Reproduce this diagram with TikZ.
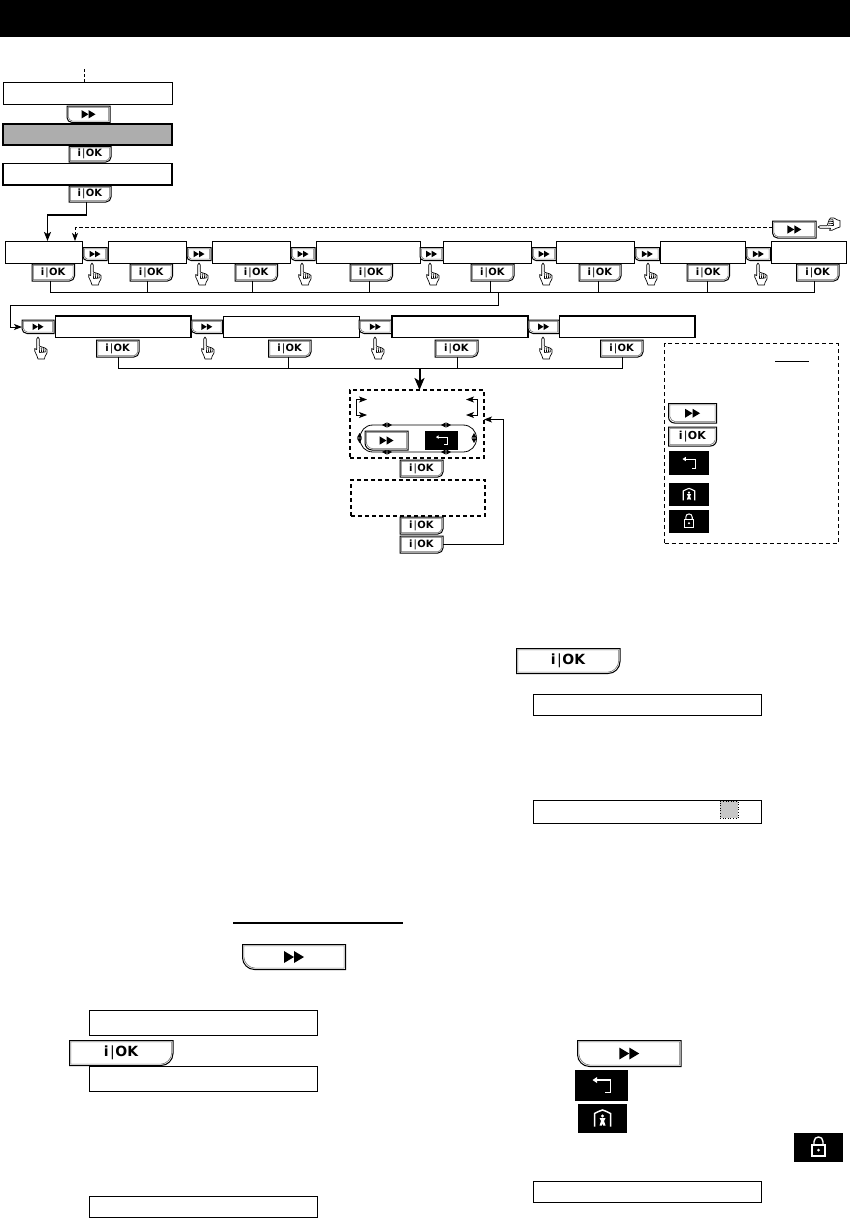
\documentclass[tikz,border=0pt]{standalone}
\usepackage{fontspec}
\setmainfont{DejaVu Sans}
\usetikzlibrary{arrows.meta}
\tikzset{
  dbase/.style={rectangle,inner sep=0pt,outer sep=0pt},
  dispbox/.style={dbase,draw=black,line width=1pt,fill=white},
  thickbox/.style={dbase,draw=black,line width=1.5pt,fill=white},
  greybox/.style={dbase,draw=black,line width=1.5pt,fill=barfill},
  darkicon/.style={dbase,fill=black},
  dashbox/.style={dbase,draw=black,line width=1.3pt,dash pattern=on 4pt off 3pt},
  thinbox/.style={dbase,draw=black,line width=.7pt,dash pattern=on 4pt off 3pt},
  link/.style={draw=black,line width=.8pt},
  linkarrow/.style={link,-{Stealth[length=8pt,width=6pt,inset=2pt]}},
  btnouter/.style={draw=black,line width=1pt,fill=white},
  btninner/.style={draw=black!55,line width=.6pt},
  whiteglyph/.style={draw=white,line width=1.3pt,line cap=butt},
  handline/.style={draw=black,line width=.65pt,fill=white,line join=round},
}
\definecolor{barfill}{HTML}{ADADAD}
\definecolor{squarefill}{HTML}{C8C8C8}
% generic box: style, name, x1,y1,x2,y2
\newcommand\dispnode[6]{%
  \pgfmathsetmacro\cxx{(#3+#5)/2}\pgfmathsetmacro\cyy{(#4+#6)/2}%
  \pgfmathsetmacro\ww{#5-#3}\pgfmathsetmacro\hh{#6-#4}%
  \node[#1,minimum width=\ww pt,minimum height=\hh pt] (#2) at (\cxx,\cyy) {};}
% next button: name, x1,y1,x2,y2, arrow width, corner radius
\newcommand\nxbtn[7]{%
  \pgfmathsetmacro\cxx{(#2+#4)/2}\pgfmathsetmacro\cyy{(#3+#5)/2}%
  \pgfmathsetmacro\ww{#4-#2}\pgfmathsetmacro\hh{#5-#3}%
  \pgfmathsetmacro\rx{#2+#7}\pgfmathsetmacro\ry{#5-#7}%
  \pgfmathsetmacro\cax{#2+.45*#7}\pgfmathsetmacro\cay{#5-.45*#7}%
  \draw[btnouter] (#2,#3) -- (#4,#3) -- (#4,#5) -- (\rx,#5) .. controls (\cax,#5) and (#2,\cay) .. (#2,\ry) -- cycle;
  \pgfmathsetmacro\ix{#2+1.4}\pgfmathsetmacro\iy{#3+1.4}\pgfmathsetmacro\jx{#4-1.4}\pgfmathsetmacro\jy{#5-1.4}%
  \pgfmathsetmacro\irx{\rx+.5}\pgfmathsetmacro\iry{\ry-.5}%
  \draw[btninner] (\ix,\iy) -- (\jx,\iy) -- (\jx,\jy) -- (\irx,\jy) .. controls (\cax+1.4,\jy) and (\ix,\cay-1.4) .. (\ix,\iry) -- cycle;
  \node[dbase,minimum width=\ww pt,minimum height=\hh pt] (#1) at (\cxx,\cyy) {};
  \begin{scope}[shift={(\cxx,\cyy)}]
    \fill[black] (-#6/2,-.3*#6) -- (0,0) -- (-#6/2,.3*#6) -- cycle;
    \fill[black] (0,-.3*#6) -- (#6/2,0) -- (0,.3*#6) -- cycle;
  \end{scope}}
% ok button: name, x1,y1,x2,y2, font size, corner radius
\newcommand\okbtn[7]{%
  \pgfmathsetmacro\cxx{(#2+#4)/2}\pgfmathsetmacro\cyy{(#3+#5)/2}%
  \pgfmathsetmacro\ww{#4-#2}\pgfmathsetmacro\hh{#5-#3}%
  \pgfmathsetmacro\rx{#4-#7}\pgfmathsetmacro\ry{#5-#7}%
  \pgfmathsetmacro\cax{#4-.45*#7}\pgfmathsetmacro\cay{#5-.45*#7}%
  \draw[btnouter] (#2,#3) -- (#4,#3) -- (#4,\ry) .. controls (#4,\cay) and (\cax,#5) .. (\rx,#5) -- (#2,#5) -- cycle;
  \pgfmathsetmacro\ix{#2+1.4}\pgfmathsetmacro\iy{#3+1.4}\pgfmathsetmacro\jx{#4-1.4}\pgfmathsetmacro\jy{#5-1.4}%
  \draw[btninner] (\ix,\iy) -- (\jx,\iy) -- (\jx,\ry) .. controls (\jx,\cay-1.4) and (\cax-1.4,\jy) .. (\rx,\jy) -- (\ix,\jy) -- cycle;
  \node[dbase,minimum width=\ww pt,minimum height=\hh pt,
        font=\fontsize{#6}{#6}\selectfont] (#1) at (\cxx,\cyy) {\textbf{i}\kern.1em{|}\kern.04em\textbf{OK}};}
% hand: x,y of fingertip, rotation, name
\newcommand\handico[4]{%
  \coordinate (#4) at (#1,#2);
  \begin{scope}[shift={(#1,#2)},rotate=#3]
    \draw[handline] (-1.3,2) .. controls (-1.3,-.6) and (1.3,-.6) .. (1.3,2) -- (1.3,9) -- (4,10) -- (7,11) -- (9,12.5) -- (9,16) -- (7,19.5) -- (6.5,22) -- (0,22) -- (-1,19) -- (-3.3,14) -- (-3.3,11.5) -- (-1.3,12.5) -- cycle;
    \draw[handline,fill=none] (1.3,10) -- (1.5,15.5) (3.2,10.5) -- (3.6,15.5) (5.2,11) -- (5.6,15.5) (7,11.5) -- (7.3,15) (1.5,15.5) -- (7.3,15);
  \end{scope}}
% black icons: name, x1,y1,x2,y2, scale
\newcommand\backico[6]{%
  \dispnode{darkicon}{#1}{#2}{#3}{#4}{#5}%
  \begin{scope}[shift={(#1.center)},scale=#6]
    \draw[whiteglyph,line width=#6*1.4pt] (-6,-5.5) -- (9,-5.5) -- (9,7) -- (3.5,7);
    \fill[white] (-9,-5.5) -- (-4.5,-8.5) -- (-4.5,-2.5) -- cycle;
  \end{scope}}
\newcommand\homeico[6]{%
  \dispnode{darkicon}{#1}{#2}{#3}{#4}{#5}%
  \begin{scope}[shift={(#1.center)},scale=#6]
    \draw[whiteglyph,line width=#6*1.5pt] (-8,8) -- (-8,-5) -- (-4,-7) -- (0,-8.5) -- (4,-7) -- (8,-5) -- (8,8);
    \fill[white] (0,-2.5) circle (1.7);
    \fill[white] (-3,-.5) -- (3,-.5) -- (1.5,2.5) -- (3,7) -- (.7,7) -- (0,5) -- (-.7,7) -- (-3,7) -- (-1.5,2.5) -- cycle;
  \end{scope}}
\newcommand\lockico[6]{%
  \dispnode{darkicon}{#1}{#2}{#3}{#4}{#5}%
  \begin{scope}[shift={(#1.center)},scale=#6]
    \draw[whiteglyph,line width=#6*1.4pt] (-6.5,-2.5) rectangle (6.5,8.5);
    \draw[whiteglyph,line width=#6*1.4pt] (-4.5,-2.5) -- (-4.5,-6) .. controls (-4.5,-12) and (4.5,-12) .. (4.5,-6) -- (4.5,-2.5);
    \fill[white] (0,2.5) circle (1.5);
  \end{scope}}
% small double arrow: x,y, rotation
\newcommand\dblarr[3]{%
  \begin{scope}[shift={(#1,#2)},rotate=#3]
    \fill[black] (-.3,-2.6) -- (-.3,2.6) -- (-5,0) -- cycle;
    \fill[black] (.3,-2.6) -- (.3,2.6) -- (5,0) -- cycle;
  \end{scope}}
\begin{document}
\begin{tikzpicture}[x=1pt,y=-1pt]
\useasboundingbox (0,0) rectangle (850,1218);
\dispnode{dbase,fill=black}{topbar}{0}{0}{850}{37}

% top stack
\dispnode{dispbox}{s1}{3}{82.5}{172}{104}
\nxbtn{sn1}{67}{106}{110}{122.5}{14}{5}
\dispnode{greybox}{s2}{3}{124}{172}{145}
\okbtn{so1}{69}{146.5}{111}{162}{10}{5}
\dispnode{thickbox}{s3}{3}{163.5}{172}{185}
\okbtn{so2}{69}{186}{111}{202}{10}{5}
\coordinate (tick) at (84.5,69);
\draw[link,dash pattern=on 3pt off 2pt] (tick) -- (s1.north -| tick);

% row 1 boxes
\dispnode{dispbox}{a1}{5}{241}{82}{263}
\dispnode{dispbox}{a2}{108.5}{241}{186.5}{263}
\dispnode{dispbox}{a3}{212.5}{241}{290.5}{263}
\dispnode{dispbox}{a4}{316}{241}{420}{263}
\dispnode{dispbox}{a5}{443.5}{241}{531.5}{263}
\dispnode{dispbox}{a6}{556.5}{241}{634.5}{263}
\dispnode{dispbox}{a7}{660}{241}{745.5}{263}
\dispnode{dispbox}{a8}{771.5}{241}{846}{263}
% row 1 next buttons
\nxbtn{an1}{83}{247.5}{107}{260.5}{11}{4}
\nxbtn{an2}{187}{247.5}{211}{260.5}{11}{4}
\nxbtn{an3}{291}{247.5}{315}{260.5}{11}{4}
\nxbtn{an4}{420}{247.5}{443}{260.5}{11}{4}
\nxbtn{an5}{532}{247.5}{556}{260.5}{11}{4}
\nxbtn{an6}{635}{247.5}{659.5}{260.5}{11}{4}
\nxbtn{an7}{746}{247.5}{770.5}{260.5}{11}{4}
% row 1 ok buttons
\okbtn{ao1}{32}{264}{74.5}{281}{10}{5}
\okbtn{ao2}{130}{264}{172.5}{281}{10}{5}
\okbtn{ao3}{235}{264}{277.5}{281}{10}{5}
\okbtn{ao4}{350}{264}{392.5}{281}{10}{5}
\okbtn{ao5}{471}{264}{514}{281}{10}{5}
\okbtn{ao6}{579}{264}{621}{281}{10}{5}
\okbtn{ao7}{687}{264}{729.5}{281}{10}{5}
\okbtn{ao8}{796.5}{264}{839}{281}{10}{5}
% hands row 1
\handico{92}{263}{0}{h1}
\handico{199}{263}{0}{h2}
\handico{302}{263}{0}{h3}
\handico{430}{263}{0}{h4}
\handico{543}{263}{0}{h5}
\handico{648}{263}{0}{h6}
\handico{758}{263}{0}{h7}

% repeat button + dashed return
\nxbtn{bign}{772.5}{221}{816}{238}{14}{5}
\handico{818}{227}{90}{h8}

% row 1 connectors
\coordinate (r1) at (50.5,292);
\coordinate (r2) at (147.5,292);
\coordinate (r3) at (252.5,292);
\coordinate (r4) at (369.5,292);
\coordinate (r5) at (490.5,292);
\coordinate (r6) at (598,292);
\coordinate (r7) at (707,292);
\coordinate (r8) at (814,292);
\coordinate (rj) at (498.5,292);
\coordinate (rk) at (498.5,305.5);
\coordinate (rl) at (10.5,305.5);
\coordinate (rm) at (10.5,327);
\draw[link] (ao1.south -| r1) -- (r1) -- (r8) -- (ao8.south -| r8);
\draw[link] (ao2.south -| r2) -- (r2);
\draw[link] (ao3.south -| r3) -- (r3);
\draw[link] (ao4.south -| r4) -- (r4);
\draw[link] (ao5.south -| r5) -- (r5);
\draw[link] (ao6.south -| r6) -- (r6);
\draw[link] (ao7.south -| r7) -- (r7);

% entry connectors
\coordinate (ea) at (86.5,215);
\coordinate (eb) at (47.5,215);
\draw[link,line width=1.3pt,-{Stealth[length=9pt,width=7pt,inset=2pt]}] (so2.south -| ea) -- (ea) -- (eb) -- (a1.north -| eb);
\coordinate (dc) at (75,227.5);
\draw[link,dash pattern=on 3.5pt off 2.5pt,-{Stealth[length=8pt,width=6pt,inset=2pt]}] (bign.west |- dc) -- (dc) -- (a1.north -| dc);

% row 2
\nxbtn{bn1}{22}{320}{54}{333.5}{11}{5}
\dispnode{thickbox}{b1}{55.5}{316}{191}{337.5}
\nxbtn{bn2}{191}{320}{222.5}{333.5}{11}{5}
\dispnode{dispbox}{b2}{223.5}{316}{359}{337.5}
\nxbtn{bn3}{359}{320}{391.5}{333.5}{11}{5}
\dispnode{thickbox}{b3}{392}{316}{528}{337.5}
\nxbtn{bn4}{528}{320}{559}{333.5}{11}{5}
\dispnode{thickbox}{b4}{559.5}{316}{695}{337.5}
\draw[linkarrow] (r5 -| rj) -- (rk) -- (rl) -- (rm) -- (bn1.west |- rm);
\okbtn{bo1}{96.5}{340}{139}{357}{10}{5}
\okbtn{bo2}{268.5}{340}{311}{357}{10}{5}
\okbtn{bo3}{435}{340}{478}{357}{10}{5}
\okbtn{bo4}{600.5}{340}{643}{357}{10}{5}
\handico{38}{337}{0}{h9}
\handico{205}{337}{0}{h10}
\handico{375}{337}{0}{h11}
\handico{543}{337}{0}{h12}
\coordinate (q1) at (118.5,368);
\coordinate (q2) at (288,368);
\coordinate (q3) at (457,368);
\coordinate (q4) at (622,368);
\coordinate (qa) at (419.5,368);
\draw[link] (bo1.south -| q1) -- (q1) -- (q4) -- (bo4.south -| q4);
\draw[link] (bo2.south -| q2) -- (q2);
\draw[link] (bo3.south -| q3) -- (q3);

% centre dashed panels
\dispnode{dashbox}{p1}{350}{390}{484}{458}
\dispnode{dashbox}{p2}{351}{480}{485}{516}
\draw[link,line width=2pt,-{Stealth[length=12pt,width=10pt,inset=3pt]}] (qa) -- (p1.north -| qa);
\okbtn{po1}{400}{460}{443}{477}{10}{5}
\okbtn{po2}{400}{517}{443}{534}{10}{5}
\okbtn{po3}{400}{536}{443}{553}{10}{5}
\coordinate (lp) at (503.5,544);
\coordinate (lq) at (503.5,419.5);
\draw[linkarrow] (po3.east |- lp) -- (lp) -- (lq) -- (p1.east |- lq);
% panel content
\coordinate (k1) at (356,399.5);
\coordinate (k2) at (356,415);
\coordinate (k3) at (367,399.5);
\coordinate (k4) at (367,415);
\coordinate (k5) at (477.5,399.5);
\coordinate (k6) at (477.5,415);
\coordinate (k7) at (466,399.5);
\coordinate (k8) at (466,415);
\draw[linkarrow] (k2) -- (k1) -- (k3);
\draw[linkarrow] (k2) -- (k4);
\draw[linkarrow] (k6) -- (k5) -- (k7);
\draw[linkarrow] (k6) -- (k8);
\draw[link] (373,425) -- (463,425) .. controls (471,425) and (476.5,431) .. (476.5,438.5) .. controls (476.5,446) and (471,452) .. (463,452) -- (373,452) .. controls (365,452) and (360,446) .. (360,438.5) .. controls (360,431) and (365,425) .. (373,425) -- cycle;
\dblarr{387}{425}{0}
\dblarr{446}{425}{0}
\dblarr{387}{452}{0}
\dblarr{446}{452}{0}
\dblarr{359.5}{438}{90}
\dblarr{474}{438}{90}
\nxbtn{pn}{365}{431}{408}{450}{14}{7}
\backico{pb}{425}{431}{458}{450}{.62}

% legend
\dispnode{thinbox}{lg}{664.5}{343.5}{838}{543}
\coordinate (u1) at (775,361);
\coordinate (u2) at (809,361);
\draw[link] (u1) -- (u2);
\nxbtn{ln}{668.5}{403.5}{716.5}{423}{15}{6}
\okbtn{lo}{668.5}{427}{716.5}{446}{11}{6}
\backico{lb}{669}{451}{709}{475}{.72}
\homeico{lh}{669}{483}{709}{506}{.72}
\lockico{ll}{669}{510}{709}{533}{.72}

% lower right
\okbtn{xo}{516.5}{648.5}{620}{673.5}{14}{12}
\dispnode{dispbox}{x1}{533.5}{694.5}{761}{715.5}
\dispnode{dispbox}{x2}{533.5}{800.5}{761}{823}
\dispnode{dbase,fill=squarefill,draw=black,line width=.6pt,dotted}{xs}{720}{801}{738}{818}
\nxbtn{yn}{577.5}{1040.5}{681}{1066.5}{20}{12}
\backico{yb}{575}{1070}{628}{1101}{1}
\homeico{yh}{578}{1104}{627}{1133}{1}
\lockico{yl}{794}{1133}{843}{1162}{1}
\dispnode{dispbox}{y1}{533.5}{1181}{761}{1202.5}

% lower left
\coordinate (w1) at (233,923);
\coordinate (w2) at (403,923);
\draw[link,line width=1.6pt] (w1) -- (w2);
\nxbtn{zn}{242.5}{944.5}{345.5}{969.5}{20}{12}
\dispnode{dispbox}{z1}{89.5}{1010.5}{317}{1035}
\okbtn{zo}{69.5}{1040.5}{173}{1065.5}{14}{12}
\dispnode{dispbox}{z2}{89.5}{1066.5}{317}{1091}
\dispnode{dispbox}{z3}{89.5}{1196.5}{317}{1217.5}
\end{tikzpicture}
\end{document}
